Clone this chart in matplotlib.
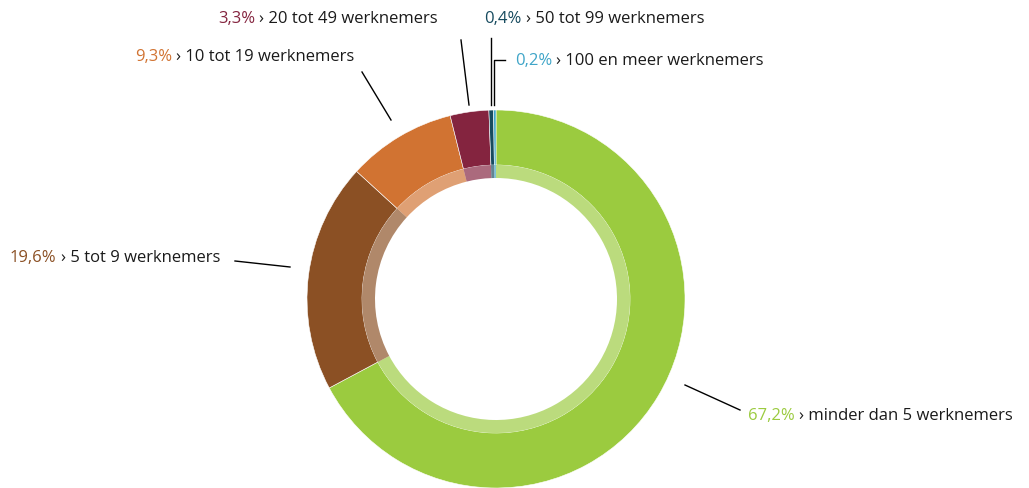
import matplotlib.pyplot as plt

# Data
labels = ["minder dan 5 werknemers", "5 tot 9 werknemers", "10 tot 19 werknemers",
          "20 tot 49 werknemers", "50 tot 99 werknemers", "100 en meer werknemers"]
values = [67.2, 19.6, 9.3, 3.3, 0.4, 0.2]
pct_labels = ["67,2%", "19,6%", "9,3%", "3,3%", "0,4%", "0,2%"]
colors = ["#9BCB3F", "#8B5024", "#D17332", "#84243F", "#174B5F", "#3FA5C8"]

W, H = 1029, 488
fig = plt.figure(figsize=(W / 100, H / 100), dpi=100)
ax = fig.add_axes([0, 0, 1, 1])

cx, cy = 496, H - 299
# outer ring
ax.pie(values, colors=colors, startangle=90, counterclock=False,
       radius=189, center=(cx, cy), frame=True,
       wedgeprops=dict(width=189 - 134, linewidth=0.4, edgecolor="white"))
# lighter inner band
ax.pie(values, colors=colors, startangle=90, counterclock=False,
       radius=134, center=(cx, cy), frame=True,
       wedgeprops=dict(width=13, linewidth=0, alpha=0.68))
ax.set_xlim(0, W)
ax.set_ylim(0, H)
ax.set_aspect("equal")
ax.axis("off")

font = "Open Sans"
fs = 12

# label positions (pixel x, pixel baseline y)
label_pos = [(748, 420), (10, 262), (135, 61), (218, 23), (484, 23), (515, 65)]
for (x, y), pct, lab, c in zip(label_pos, pct_labels, labels, colors):
    t = ax.text(x, H - y, pct, color=c, fontsize=fs, family=font, va="baseline")
    ax.annotate("\u203a " + lab, xy=(1, 0), xycoords=t, xytext=(3, 0),
                textcoords="offset points", va="bottom", ha="left",
                fontsize=fs, family=font, color="#1a1a1a")

# leader lines (pixel coords)
leaders = [
    [(685, 385), (740, 410)],
    [(235, 261), (290, 267)],
    [(362, 72), (391, 120)],
    [(461, 40), (469, 105)],
    [(491, 38), (491, 105)],
    [(505, 60), (494, 60), (494, 105)],
]
for pts in leaders:
    xs = [p[0] for p in pts]
    ys = [H - p[1] for p in pts]
    ax.plot(xs, ys, color="black", linewidth=1)

fig.savefig("out.png", dpi=100)
